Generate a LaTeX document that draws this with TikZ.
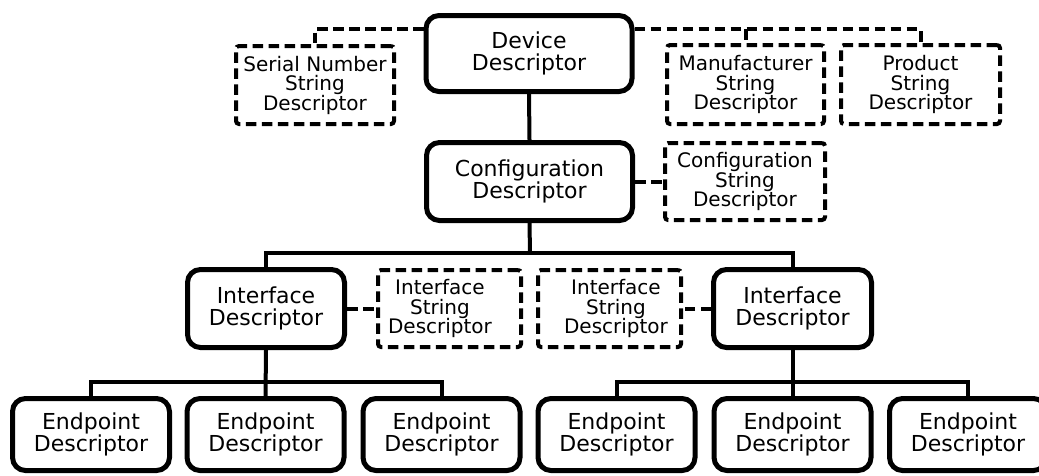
\documentclass[tikz,border=0pt]{standalone}
\usepackage{fontspec}
\setmainfont{DejaVu Sans}
\begin{document}
\begin{tikzpicture}[x=1pt,y=-1pt,
  sbox/.style={draw=black, line width=5pt, rounded corners=13pt, inner sep=1pt,
    align=center, font=\fontsize{22}{21.5}\selectfont, minimum width=#1},
  sbox/.default=157pt,
  dbox/.style={draw=black, line width=4pt, rounded corners=3pt, inner sep=1pt,
    dash pattern=on 10.5pt off 5.5pt, align=center,
    font=\fontsize{20}{19.5}\selectfont},
  dtext/.style={inner sep=0pt, align=center, font=\fontsize{20}{19.5}\selectfont},
  cline/.style={line width=4pt},
  dline/.style={line width=4pt, dash pattern=on 10.5pt off 5.5pt},
]
\useasboundingbox (0,0) rectangle (1039,475);
\clip (0,0) rectangle (1039,475);

% main solid nodes
\node[sbox=206pt, minimum height=76pt] (dev) at (529,53.5) {Device\\Descriptor};
\node[sbox=206pt, minimum height=78pt] (conf) at (529.5,181.5) {Configuration\\Descriptor};
\node[sbox=157pt, minimum height=78pt] (ifl) at (266,308.5) {Interface\\Descriptor};
\node[sbox=158pt, minimum height=78pt] (ifr) at (792.5,308.5) {Interface\\Descriptor};

% endpoints
\foreach \n/\x in {e1/91, e2/265.5, e3/441.5, e4/616.5, e5/792.5, e6/968}
  \node[sbox=157pt, minimum height=72pt] (\n) at (\x,434.5) {Endpoint\\Descriptor};

% dashed string descriptors
\node[dbox, minimum width=158pt, minimum height=78pt] (ser) at (315,85) {Serial Number\\String\\Descriptor};
\node[dbox, minimum width=157pt, minimum height=79pt] (man) at (745.5,84.5) {Manufacturer\\String\\Descriptor};
\node[dbox, minimum width=159pt, minimum height=79pt] (prod) at (920.5,84.5) {Product\\String\\Descriptor};
\node[dbox, minimum width=160pt, minimum height=77pt] (cstr) at (745,181.5) {Configuration\\String\\Descriptor};
\node[dbox, minimum width=143pt, minimum height=77pt] (isl) at (449.5,308.5) {};
\node[dtext] (islt) at (440,308.5) {Interface\\String\\Descriptor};
\node[dbox, minimum width=143pt, minimum height=77pt] (isr) at (609.5,308.5) {};
\node[dtext] (isrt) at (616,308.5) {Interface\\String\\Descriptor};

% solid connectors
\coordinate (b1) at (530,253);
\draw[cline] (dev.south) -- (conf.north);
\draw[cline] (conf.south) -- (b1);
\draw[cline] (ifl.north) |- (b1) -| (ifr.north);
\coordinate (b2) at (266,382);
\coordinate (b3) at (793,382);
\draw[cline] (ifl.south) -- (e2.north);
\draw[cline] (e1.north) |- (b2) -| (e3.north);
\draw[cline] (ifr.south) -- (e5.north);
\draw[cline] (e4.north) |- (b3) -| (e6.north);

% dashed connectors
\coordinate (sj) at (314,29);
\draw[dline] (dev.west |- sj) -| (ser.north);
\draw[dline] (dev.east |- sj) -| (prod.north);
\coordinate (mj) at (man.north |- sj);
\draw[dline] (mj) -- (man.north);
\draw[dline] (conf.east) -- (cstr.west);
\draw[dline] (ifl.east) -- (isl.west);
\draw[dline] (ifr.west) -- (isr.east);
\end{tikzpicture}
\end{document}
